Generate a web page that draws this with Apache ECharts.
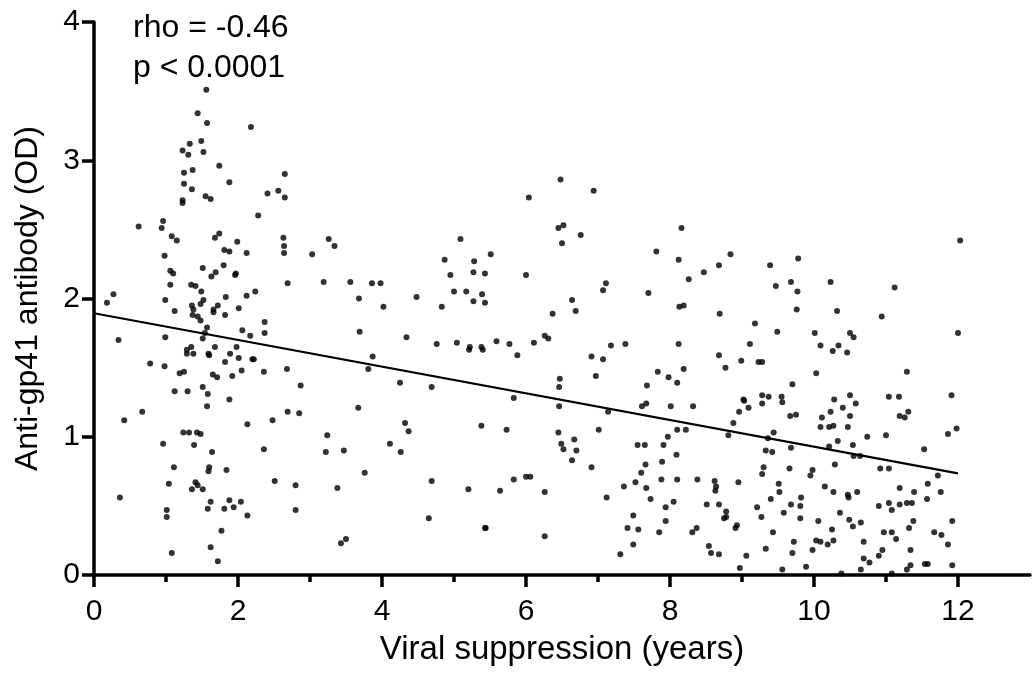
<!DOCTYPE html>
<html>
<head>
<meta charset="utf-8">
<script src="https://cdn.jsdelivr.net/npm/echarts@6/dist/echarts.min.js"></script>
<style>
  html, body { margin: 0; padding: 0; background: #fff; }
  #chart { width: 1032px; height: 681px; }
</style>
</head>
<body>
<div id="chart"></div>
<script>
// ---- Data: [years of viral suppression, anti-gp41 OD] ----
const ptsYears0to3High = [
  [1.56,3.51],[1.44,3.34],[1.57,3.27],[2.18,3.24],[1.49,3.14],[1.23,3.07],[1.33,3.12],[1.31,3.04],
  [1.52,3.06],[1.74,2.96],[1.25,2.91],[1.37,2.93],[1.25,2.83],[1.36,2.79],[1.88,2.84],[1.55,2.74],
  [1.62,2.72],[1.23,2.71],[1.23,2.69],[2.41,2.76],[2.56,2.78],[2.65,2.90],[2.65,2.73],[2.28,2.60],
  [0.62,2.52],[0.96,2.56],[0.94,2.51],[1.08,2.45],[1.15,2.42],[1.68,2.44],[1.74,2.47],[1.99,2.41],
  [1.81,2.35],[1.88,2.34],[2.12,2.33],[0.98,2.31],[2.63,2.44],[2.64,2.38],[2.64,2.33],[3.03,2.32],
  [1.51,2.22],[1.06,2.20],[1.10,2.18],[1.69,2.19],[1.63,2.16],[1.80,2.24],[1.97,2.18],[1.96,2.17],
  [1.06,2.10],[1.35,2.10],[1.41,2.09],[2.69,2.11]
];
const ptsYears0to3Low = [
  [0.27,2.03],[0.18,1.97],[0.99,1.99],[1.49,2.05],[1.52,1.99],[1.48,1.96],[1.36,1.95],[1.38,1.92],
  [1.37,1.88],[1.44,1.87],[1.48,1.84],[1.12,1.91],[1.66,1.92],[1.66,1.90],[1.72,1.95],[1.83,2.01],
  [1.82,1.88],[2.01,1.93],[2.12,2.02],[2.24,2.05],[1.57,1.79],[1.54,1.75],[1.51,1.71],[0.99,1.72],
  [0.34,1.70],[2.06,1.77],[2.17,1.73],[2.37,1.83],[2.37,1.75],[1.98,1.65],[1.89,1.60],[2.01,1.57],
  [1.68,1.65],[1.59,1.60],[1.60,1.59],[1.35,1.65],[1.29,1.63],[1.29,1.60],[1.38,1.60],[1.82,1.54],
  [2.05,1.48],[2.20,1.56],[2.22,1.56],[2.36,1.47],[2.68,1.49],[2.87,1.37],[1.92,1.44],[1.71,1.43],
  [1.65,1.45],[1.25,1.47],[1.19,1.46],[0.78,1.53],[0.98,1.51],[1.51,1.36],[1.30,1.33],[1.12,1.33],
  [1.58,1.31],[1.57,1.22],[1.88,1.27],[0.67,1.18],[0.42,1.12],[2.69,1.18],[2.85,1.17],[2.48,1.12],
  [2.13,1.09],[1.24,1.03],[1.32,1.03],[1.43,1.03],[1.48,1.02],[0.96,0.95],[1.39,0.94],[1.64,0.89],
  [2.36,0.91],[1.11,0.78],[1.60,0.78],[1.59,0.75],[1.84,0.76],[1.04,0.66],[1.41,0.67],[1.44,0.65],
  [1.36,0.62],[1.51,0.62],[2.51,0.68],[2.80,0.65],[0.36,0.56],[1.62,0.53],[1.58,0.48],[1.81,0.48],
  [1.88,0.54],[1.94,0.49],[2.04,0.53],[2.13,0.43],[2.80,0.47],[1.01,0.47],[1.01,0.42],[1.77,0.32],
  [1.62,0.20],[1.08,0.16],[1.72,0.10]
];
const ptsYears3to6High = [
  [6.04,2.73],[5.09,2.43],[3.26,2.43],[3.34,2.38],[4.87,2.28],[5.28,2.27],[5.51,2.32],[4.95,2.17],
  [5.27,2.19],[5.43,2.18],[6.00,2.17],[3.19,2.12],[3.56,2.12],[3.86,2.11],[3.98,2.11]
];
const ptsYears3to6Low = [
  [3.68,2.00],[4.02,1.94],[4.48,2.01],[5.00,2.05],[5.17,2.05],[5.39,2.03],[5.27,1.98],[5.43,1.97],
  [4.83,1.94],[3.69,1.76],[4.34,1.72],[4.76,1.67],[5.04,1.68],[5.22,1.65],[5.21,1.63],[5.38,1.65],
  [5.40,1.63],[5.59,1.69],[5.77,1.67],[5.88,1.59],[6.11,1.68],[6.26,1.73],[6.31,1.71],[3.87,1.58],
  [3.81,1.49],[4.25,1.39],[4.69,1.36],[5.83,1.28],[3.67,1.21],[4.32,1.10],[4.37,1.04],[5.38,1.08],
  [5.73,1.05],[3.24,1.01],[3.22,0.89],[3.47,0.90],[4.11,0.95],[4.26,0.89],[3.76,0.74],[3.38,0.63],
  [4.69,0.68],[5.20,0.62],[5.64,0.61],[5.83,0.69],[6.00,0.71],[6.06,0.71],[6.26,0.60],[4.65,0.41],
  [5.43,0.34],[5.44,0.34],[6.26,0.28],[3.43,0.23],[3.50,0.26]
];
const ptsYears6to9High = [
  [6.48,2.86],[6.94,2.78],[6.45,2.51],[6.52,2.53],[6.50,2.40],[6.76,2.46],[8.16,2.51],[7.81,2.34],
  [8.12,2.28],[8.84,2.32],[8.68,2.24],[8.47,2.19],[8.26,2.14],[9.39,2.24],[7.11,2.11],[9.47,2.09]
];
const ptsYears6to9Low = [
  [6.64,1.99],[7.07,2.06],[7.70,2.04],[6.37,1.89],[6.69,1.91],[8.13,1.94],[8.19,1.95],[8.69,1.89],
  [9.18,1.82],[9.49,1.76],[7.18,1.66],[7.38,1.67],[8.12,1.67],[9.11,1.67],[6.91,1.58],[7.07,1.56],
  [8.68,1.59],[8.99,1.55],[9.23,1.54],[9.28,1.54],[8.77,1.50],[7.83,1.47],[8.19,1.49],[7.98,1.43],
  [6.97,1.44],[6.47,1.42],[8.10,1.39],[7.68,1.37],[6.46,1.36],[9.28,1.30],[9.37,1.29],[9.02,1.27],
  [9.03,1.26],[9.28,1.24],[9.09,1.21],[8.96,1.18],[6.46,1.22],[7.61,1.22],[7.67,1.24],[8.01,1.22],
  [8.32,1.22],[7.14,1.18],[8.88,1.10],[6.45,1.03],[7.01,1.05],[8.10,1.05],[8.22,1.05],[9.44,1.03],
  [8.81,1.01],[9.36,0.99],[6.67,0.98],[6.49,0.95],[6.52,0.91],[6.70,0.90],[7.55,0.94],[7.65,0.94],
  [7.91,0.94],[7.97,1.00],[9.33,0.90],[9.42,0.89],[8.09,0.87],[6.64,0.83],[7.89,0.82],[7.66,0.80],
  [6.91,0.78],[9.30,0.78],[7.60,0.74],[9.28,0.73],[7.52,0.67],[7.36,0.64],[7.67,0.63],[7.88,0.69],
  [8.10,0.69],[8.38,0.69],[8.62,0.68],[8.64,0.64],[8.63,0.61],[8.95,0.67],[9.51,0.66],[9.52,0.60],
  [7.12,0.56],[7.73,0.55],[9.40,0.55],[8.05,0.53],[7.94,0.49],[8.51,0.51],[8.68,0.51],[9.21,0.49],
  [8.78,0.46],[8.75,0.41],[8.78,0.42],[9.27,0.42],[7.49,0.43],[7.94,0.39],[7.41,0.34],[7.56,0.33],
  [7.85,0.31],[8.31,0.31],[8.37,0.34],[8.91,0.34],[8.93,0.36],[9.43,0.31],[7.49,0.22],[8.54,0.21],
  [9.33,0.19],[7.31,0.15],[8.57,0.16],[8.68,0.15],[9.06,0.14],[8.97,0.05]
];
const ptsYears9to12High = [
  [12.03,2.42],[9.78,2.29],[9.68,2.12],[10.23,2.12],[11.12,2.08]
];
const ptsYears9to12Low = [
  [9.77,2.05],[9.76,1.92],[10.32,1.91],[10.94,1.87],[12.00,1.75],[10.01,1.75],[10.50,1.75],[10.55,1.72],
  [10.09,1.66],[10.34,1.66],[10.26,1.62],[10.46,1.61],[10.03,1.46],[11.29,1.47],[9.70,1.38],[9.55,1.29],
  [9.56,1.25],[10.28,1.27],[10.50,1.30],[10.58,1.24],[10.40,1.21],[10.23,1.18],[10.11,1.14],[10.50,1.15],
  [9.67,1.15],[9.75,1.16],[11.04,1.29],[11.18,1.29],[11.31,1.18],[11.19,1.15],[11.26,1.14],[11.91,1.30],
  [10.09,1.07],[10.21,1.07],[10.27,1.08],[10.47,1.07],[10.74,1.00],[11.00,1.01],[11.86,1.02],[11.98,1.06],
  [10.33,0.97],[10.21,0.93],[10.54,0.94],[9.68,0.92],[11.53,0.91],[10.55,0.86],[10.64,0.86],[10.29,0.80],
  [9.66,0.77],[9.95,0.72],[9.98,0.76],[10.92,0.77],[11.04,0.77],[11.72,0.72],[11.58,0.66],[10.15,0.64],
  [10.27,0.60],[10.47,0.58],[10.48,0.56],[10.60,0.60],[11.19,0.63],[11.39,0.60],[11.76,0.60],[9.82,0.56],
  [9.81,0.50],[9.68,0.51],[9.58,0.45],[9.81,0.41],[10.36,0.45],[10.90,0.50],[11.04,0.52],[11.19,0.51],
  [11.08,0.47],[11.29,0.52],[11.36,0.52],[11.57,0.55],[10.06,0.39],[10.49,0.40],[10.54,0.35],[10.65,0.38],
  [11.38,0.39],[11.92,0.39],[11.32,0.34],[10.25,0.33],[10.27,0.25],[10.97,0.31],[11.08,0.31],[11.14,0.26],
  [11.67,0.31],[11.77,0.29],[9.72,0.24],[10.03,0.25],[10.09,0.24],[10.19,0.22],[10.69,0.24],[9.70,0.16],
  [9.98,0.18],[10.95,0.18],[10.90,0.14],[11.34,0.18],[11.86,0.22],[10.69,0.12],[10.77,0.09],[9.89,0.06],
  [9.56,0.04],[10.38,0.01],[10.65,0.04],[11.08,0.01],[11.29,0.04],[11.34,0.07],[11.54,0.08],[11.58,0.08],
  [11.92,0.07]
];
// Regression line end points as drawn in the reference
const fitLine = [[0, 1.893], [12, 0.735]];
// Axis ticks / labels
const xMajorTicks = [0, 2, 4, 6, 8, 10, 12];
const xMinorTicks = [1, 3, 5, 7, 9, 11];
const statLines = ['rho = -0.46', 'p < 0.0001'];
const xTitle = 'Viral suppression (years)';
const yTitle = 'Anti-gp41 antibody (OD)';

const allPoints = [].concat(
  ptsYears0to3High, ptsYears0to3Low, ptsYears3to6High, ptsYears3to6Low,
  ptsYears6to9High, ptsYears6to9Low, ptsYears9to12High, ptsYears9to12Low
);

const FONT = '"Liberation Sans", Arial, Helvetica, sans-serif';
const chart = echarts.init(document.getElementById('chart'), null, { renderer: 'canvas' });

const option = {
  backgroundColor: '#ffffff',
  animation: false,
  textStyle: { fontFamily: FONT, color: '#000' },
  grid: { left: 94, right: 2, top: 22, bottom: 106, containLabel: false },
  xAxis: [
    {
      type: 'value', min: 0, max: 13, interval: 2, position: 'bottom',
      name: xTitle, nameLocation: 'middle', nameGap: 58,
      nameTextStyle: { fontFamily: FONT, fontSize: 33, color: '#000' },
      axisLine: { show: true, onZero: false, lineStyle: { color: '#000', width: 3.5 } },
      axisTick: { show: true, length: 12, lineStyle: { color: '#000', width: 3.5 }, customValues: xMajorTicks },
      axisLabel: { show: true, margin: 22, fontFamily: FONT, fontSize: 30, color: '#000', customValues: xMajorTicks },
      splitLine: { show: false }
    },
    {
      type: 'value', min: 0, max: 13, position: 'bottom',
      axisLine: { show: false },
      axisTick: { show: true, length: 7, lineStyle: { color: '#000', width: 3.5 }, customValues: xMinorTicks },
      axisLabel: { show: false },
      splitLine: { show: false }
    }
  ],
  yAxis: {
    type: 'value', min: 0, max: 4, interval: 1,
    name: yTitle, nameLocation: 'middle', nameGap: 50, nameRotate: 90,
    nameTextStyle: { fontFamily: FONT, fontSize: 32, color: '#000' },
    axisLine: { show: true, onZero: false, lineStyle: { color: '#000', width: 3.5 } },
    axisTick: { show: true, length: 12, lineStyle: { color: '#000', width: 3.5 } },
    axisLabel: { show: true, margin: 14, fontFamily: FONT, fontSize: 30, color: '#000' },
    splitLine: { show: false }
  },
  graphic: [
    { type: 'text', left: 133, top: 12, style: { text: statLines[0], font: '32px ' + FONT, fill: '#000' } },
    { type: 'text', left: 133, top: 52, style: { text: statLines[1], font: '32px ' + FONT, fill: '#000' } }
  ],
  series: [
    {
      type: 'line', xAxisIndex: 0, data: fitLine, symbol: 'none',
      lineStyle: { color: '#000', width: 2.2 }, z: 2, silent: true
    },
    {
      type: 'scatter', xAxisIndex: 0, data: allPoints, symbol: 'circle', symbolSize: 6,
      itemStyle: { color: '#000' }, z: 3, silent: true
    }
  ]
};
chart.setOption(option);
</script>
</body>
</html>
